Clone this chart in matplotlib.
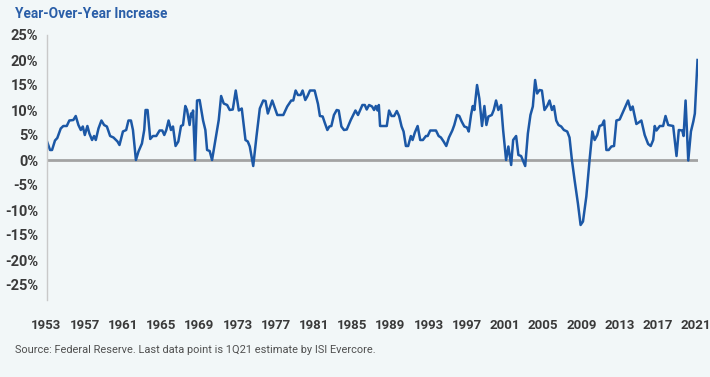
import matplotlib
matplotlib.use("Agg")
import matplotlib.pyplot as plt
from matplotlib import font_manager

years = [
    1953.00, 1953.37, 1953.58, 1953.89, 1954.13, 1954.49, 1954.76, 1955.12, 1955.39, 1955.81,
    1956.06, 1956.34, 1956.59, 1956.80, 1957.01, 1957.28, 1957.49, 1957.77, 1957.98, 1958.16,
    1958.44, 1958.75, 1959.03, 1959.32, 1959.66, 1960.01, 1960.43, 1960.64, 1961.00, 1961.34,
    1961.58, 1961.84, 1962.05, 1962.36, 1962.63, 1962.99, 1963.23, 1963.37, 1963.58, 1963.86,
    1964.14, 1964.49, 1964.84, 1965.12, 1965.33, 1965.54, 1965.78, 1966.03, 1966.24, 1966.51,
    1966.80, 1967.08, 1967.29, 1967.53, 1967.71, 1967.98, 1968.13, 1968.27, 1968.34, 1968.55,
    1968.76, 1969.03, 1969.39, 1969.63, 1969.81, 1970.08, 1970.33, 1970.68, 1971.03, 1971.28,
    1971.55, 1971.91, 1972.18, 1972.50, 1972.81, 1973.13, 1973.44, 1973.83, 1974.07, 1974.28,
    1974.64, 1974.98, 1975.33, 1975.69, 1975.93, 1976.17, 1976.63, 1977.16, 1977.79, 1978.20,
    1978.62, 1978.83, 1979.08, 1979.32, 1979.60, 1979.81, 1980.09, 1980.30, 1980.58, 1981.07,
    1981.42, 1981.62, 1981.91, 1982.12, 1982.40, 1982.61, 1982.82, 1983.09, 1983.38, 1983.59,
    1983.87, 1984.14, 1984.43, 1984.85, 1985.34, 1985.61, 1986.07, 1986.32, 1986.52, 1986.77,
    1987.08, 1987.29, 1987.47, 1987.65, 1987.79, 1987.92, 1988.41, 1988.62, 1988.86, 1989.12,
    1989.39, 1989.67, 1989.91, 1990.17, 1990.38, 1990.62, 1990.86, 1991.14, 1991.32, 1991.56,
    1991.85, 1992.12, 1992.40, 1992.72, 1992.90, 1993.17, 1993.77, 1994.05, 1994.29, 1994.57,
    1994.85, 1995.13, 1995.48, 1995.69, 1995.97, 1996.21, 1996.46, 1996.74, 1997.02, 1997.20,
    1997.44, 1997.62, 1997.79, 1998.07, 1998.31, 1998.59, 1998.84, 1999.05, 1999.26, 1999.61,
    1999.82, 2000.06, 2000.30, 2000.59, 2000.80, 2001.11, 2001.35, 2001.64, 2001.85, 2002.16,
    2002.40, 2002.68, 2003.11, 2003.39, 2003.66, 2003.91, 2004.15, 2004.36, 2004.61, 2004.86,
    2005.13, 2005.41, 2005.66, 2005.91, 2006.12, 2006.36, 2006.60, 2006.88, 2007.16, 2007.51,
    2007.75, 2008.00, 2008.28, 2008.63, 2008.91, 2009.16, 2009.51, 2009.85, 2010.14, 2010.38,
    2010.66, 2010.90, 2011.16, 2011.37, 2011.61, 2011.85, 2012.13, 2012.41, 2012.66, 2013.00,
    2013.88, 2014.15, 2014.36, 2014.75, 2014.99, 2015.27, 2015.62, 2015.98, 2016.25, 2016.51,
    2016.67, 2016.85, 2017.20, 2017.55, 2017.80, 2018.08, 2018.60, 2018.95, 2019.19, 2019.55,
    2019.69, 2019.90, 2020.18, 2020.46, 2020.71, 2020.87, 2021.15,
]
growth_pct = [
    4.0, 2.0, 2.0, 3.9, 4.4, 6.3, 6.8, 6.8, 7.9, 8.0,
    8.8, 7.0, 6.0, 6.7, 5.0, 6.8, 5.3, 4.0, 4.8, 4.0,
    6.3, 7.9, 7.0, 6.7, 4.8, 4.5, 3.7, 3.0, 5.7, 6.0,
    7.9, 7.9, 6.0, 0.0, 1.7, 3.3, 6.0, 10.0, 10.0, 4.2,
    4.8, 4.8, 5.9, 5.9, 5.0, 6.0, 7.9, 6.0, 6.7, 2.8,
    3.7, 6.8, 7.0, 10.8, 10.0, 7.0, 9.3, 8.7, 9.9, 0.0,
    11.9, 12.0, 7.9, 6.0, 2.0, 1.8, 0.0, 4.0, 8.0, 12.8,
    11.3, 11.0, 10.0, 10.1, 13.9, 9.9, 10.3, 4.0, 3.7, 2.7,
    -1.2, 4.7, 10.3, 11.9, 11.8, 9.3, 11.9, 9.0, 9.0, 10.7,
    11.9, 11.9, 13.9, 13.0, 13.0, 13.9, 12.0, 12.7, 13.9, 13.9,
    11.2, 8.8, 8.7, 7.5, 6.0, 6.7, 6.8, 9.0, 10.0, 9.9,
    6.7, 6.0, 6.1, 8.0, 9.9, 9.0, 11.0, 11.0, 10.1, 11.0,
    10.7, 10.0, 10.8, 9.9, 11.0, 6.8, 6.8, 6.8, 9.9, 8.8,
    8.8, 9.8, 8.8, 6.7, 5.7, 2.8, 2.8, 4.8, 4.0, 5.5,
    6.8, 4.0, 4.0, 4.8, 4.8, 5.9, 5.9, 4.8, 4.5, 3.7,
    2.8, 4.5, 5.9, 7.0, 9.0, 8.8, 7.7, 6.7, 6.5, 5.7,
    9.0, 10.8, 10.0, 15.0, 12.3, 6.8, 10.8, 7.0, 8.7, 9.0,
    10.0, 11.9, 10.0, 11.0, 6.0, 0.0, 2.7, -1.0, 4.0, 4.8,
    1.0, 0.8, -1.2, 5.3, 9.0, 10.7, 16.0, 13.3, 14.0, 13.9,
    10.0, 10.8, 11.9, 10.0, 10.8, 7.9, 7.0, 6.7, 6.0, 5.7,
    4.5, 0.0, -4.0, -8.7, -13.0, -12.3, -7.3, 0.0, 5.7, 4.0,
    5.0, 6.8, 7.0, 7.9, 2.0, 2.0, 2.7, 2.8, 7.9, 8.1,
    11.9, 10.0, 10.7, 7.2, 7.5, 7.9, 5.0, 3.2, 2.8, 4.0,
    6.8, 5.9, 6.8, 6.8, 8.8, 7.0, 6.8, 0.8, 6.0, 5.9,
    4.8, 11.9, -0.1, 5.7, 7.7, 9.3, 20.0,
]
x_ticks = [1953, 1957, 1961, 1965, 1969, 1973, 1977, 1981, 1985, 1989,
           1993, 1997, 2001, 2005, 2009, 2013, 2017, 2021]
y_ticks = [25, 20, 15, 10, 5, 0, -5, -10, -15, -20, -25]

title = "Year-Over-Year Increase"
source = "Source: Federal Reserve. Last data point is 1Q21 estimate by ISI Evercore."

available = {f.name for f in font_manager.fontManager.ttflist}
narrow = "Liberation Sans Narrow" if "Liberation Sans Narrow" in available else "Roboto"
plt.rcParams['font.family'] = [narrow, 'DejaVu Sans']

bg = "#f2f7f8"
line_color = "#1c58a6"
text_color = "#3a3a3a"

fig = plt.figure(figsize=(7.10, 3.77), dpi=100, facecolor=bg)
ax = fig.add_axes([46.5 / 710, 1 - 300 / 377, (698 - 46.5) / 710, (300 - 35) / 377])
ax.set_facecolor(bg)

ax.axhline(0, color="#a3a3a3", lw=2.0, zorder=1)
ax.plot(years, growth_pct, color=line_color, lw=1.8, solid_joinstyle="round", zorder=2)

ax.set_xlim(1953, 2021.2)
ax.set_ylim(-28, 25)
ax.set_yticks(y_ticks)
ax.set_yticklabels([f"{v}%" for v in y_ticks])
ax.set_xticks(x_ticks)
ax.set_xticklabels([str(v) for v in x_ticks])

for s in ["top", "right", "bottom"]:
    ax.spines[s].set_visible(False)
ax.spines["left"].set_color("#c9c9c9")
ax.spines["left"].set_linewidth(1.0)

ax.tick_params(axis="y", length=0, pad=6, labelsize=10.5, labelcolor=text_color)
ax.tick_params(axis="x", length=0, pad=14, labelsize=9.5, labelcolor=text_color)
for lbl in ax.get_yticklabels() + ax.get_xticklabels():
    lbl.set_fontweight("bold")

fig.text(15 / 710, 1 - 14 / 377, title, ha="left", va="center", color="#2a5ea8",
         fontsize=9.8, fontweight="bold")
fig.text(15 / 710, 1 - 350 / 377, source, ha="left", va="center", color="#505050",
         fontsize=7.9)

fig.savefig("out.png", dpi=100, facecolor=bg)
